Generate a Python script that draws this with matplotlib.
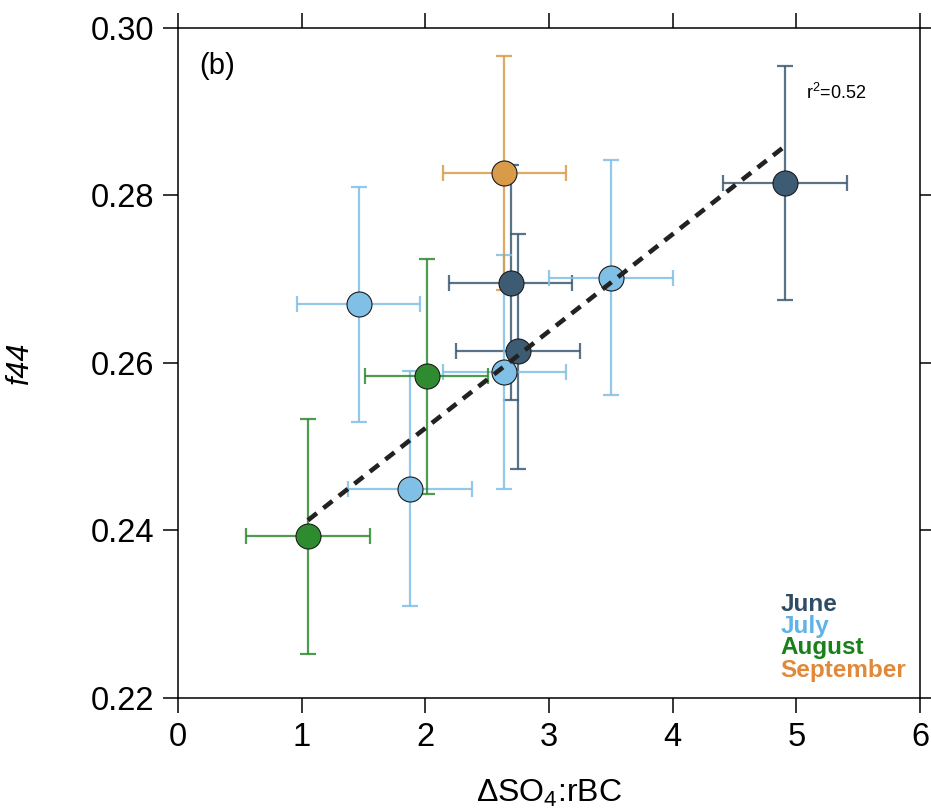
import numpy as np
import matplotlib
matplotlib.use("Agg")
import matplotlib.pyplot as plt

plt.rcParams['font.family'] = ['Liberation Sans', 'DejaVu Sans']
plt.rcParams['mathtext.fontset'] = 'custom'
plt.rcParams['mathtext.rm'] = 'Liberation Sans'
plt.rcParams['mathtext.it'] = 'Liberation Sans:italic'
plt.rcParams['mathtext.default'] = 'regular'

# data
months = ['June', 'July', 'August', 'September']
june_x = [4.91, 2.69, 2.75]
june_y = [0.2815, 0.2696, 0.2614]
july_x = [1.46, 3.50, 2.64, 1.875]
july_y = [0.2670, 0.2702, 0.2589, 0.2450]
aug_x = [1.05, 2.01]
aug_y = [0.2393, 0.2584]
sep_x = [2.64]
sep_y = [0.2827]
x_err = 0.5
y_err = 0.014

fit_slope = 0.01158
fit_intercept = 0.22906
r2_text = 'r$^2$=0.52'

marker_colors = {'June': '#3e5b74', 'July': '#80bfe6', 'August': '#2e8b30', 'September': '#d99a4a'}
label_colors = {'June': '#2f4c66', 'July': '#5fb3e6', 'August': '#1a801a', 'September': '#e0893a'}

series = {'June': (june_x, june_y), 'July': (july_x, july_y),
          'August': (aug_x, aug_y), 'September': (sep_x, sep_y)}

fig = plt.figure(figsize=(9.31, 8.10), dpi=100)
ax = fig.add_axes([178/931, 112/810, 742/931, 670/810])

for m in months:
    xs, ys = series[m]
    ax.errorbar(xs, ys, xerr=x_err, yerr=y_err, fmt='none', ecolor=marker_colors[m],
                alpha=0.85, elinewidth=1.6, capsize=5.5, capthick=1.6, zorder=1)
for m in months:
    xs, ys = series[m]
    ax.plot(xs, ys, 'o', ms=18, mfc=marker_colors[m], mec='#1a1a1a', mew=0.8,
            linestyle='none', zorder=2)

all_x = june_x + july_x + aug_x + sep_x
fx = np.array([min(all_x), max(all_x)])
ax.plot(fx, fit_intercept + fit_slope*fx, color='#222222', lw=3.3,
        dashes=(2.5, 1.8), zorder=3)

ax.text(5.08, 0.2923, r2_text, fontsize=13, va='center', ha='left')
ax.text(0.028, 0.944, '(b)', transform=ax.transAxes, fontsize=21, va='center', ha='left')

legend_y = [0.139, 0.107, 0.075, 0.041]
for m, ly in zip(months, legend_y):
    ax.text(0.812, ly, m, transform=ax.transAxes, color=label_colors[m],
            fontsize=17.5, fontweight='bold', va='center', ha='left')

ax.set_xlim(0, 6)
ax.set_ylim(0.22, 0.30)
ax.set_xticks(range(0, 7))
ax.set_yticks([0.22, 0.24, 0.26, 0.28, 0.30])
ax.set_yticklabels(['%.2f' % v for v in [0.22, 0.24, 0.26, 0.28, 0.30]])
ax.tick_params(which='both', direction='out', length=11, width=1.1, labelsize=23.5,
               top=True, right=True, labeltop=False, labelright=False, pad=6)
for sp in ax.spines.values():
    sp.set_linewidth(1.1)

ax.set_xlabel('ΔSO$_4$:rBC', fontsize=23, labelpad=18)
ax.set_ylabel('f44', fontsize=22, style='italic', labelpad=40)

fig.savefig('out.png', dpi=100)
